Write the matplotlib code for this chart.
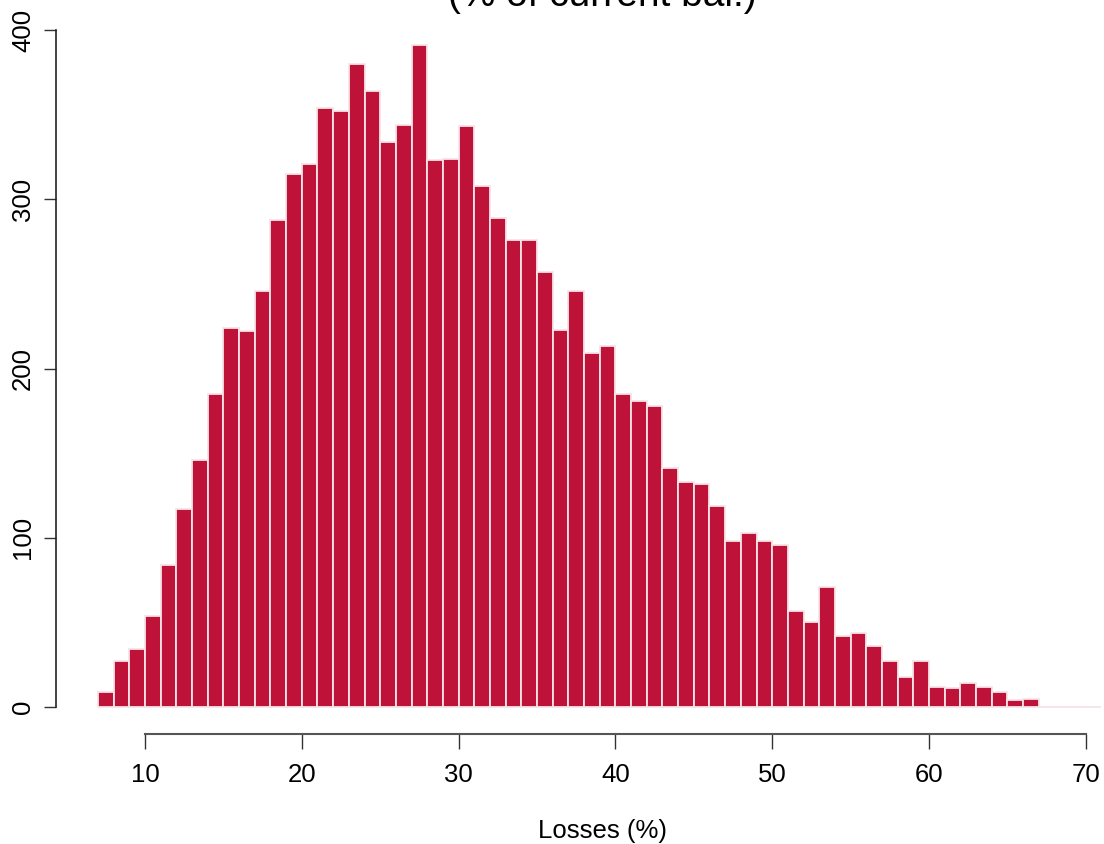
import matplotlib
matplotlib.use('Agg')
import matplotlib.pyplot as plt
import numpy as np

plt.rcParams['font.family'] = ['Liberation Sans', 'DejaVu Sans']

# histogram of losses, bins of width 1 from 7 to 71
bin_edges = list(range(7, 72))
counts = [9, 27, 34, 54, 84, 117, 146, 185, 224, 222,
          246, 288, 315, 321, 354, 352, 380, 364, 334, 344,
          391, 323, 324, 343, 308, 289, 276, 276, 257, 223,
          246, 209, 213, 185, 181, 178, 141, 133, 132, 119,
          98, 103, 98, 96, 57, 50, 71, 42, 44, 36,
          27, 18, 27, 12, 11, 14, 12, 9, 4, 5,
          0, 0, 0, 0]
x_ticks = [10, 20, 30, 40, 50, 60, 70]
y_ticks = [0, 100, 200, 300, 400]
title = '(% of current bal.)'
xlabel = 'Losses (%)'

W, H = 1104, 844
fig = plt.figure(figsize=(W / 100, H / 100), dpi=100)
# axes box in pixels: left 56, right 1104, top 20, bottom 734
ax = fig.add_axes([56 / W, 1 - 734 / H, (1104 - 56) / W, (734 - 20) / H])

ax.hist(bin_edges[:-1], bins=bin_edges, weights=counts,
        color='#BE1238', edgecolor='#f6e4e8', linewidth=1.3)

px_x = 15.68
ax.set_xlim(10 + (56 - 145) / px_x, 10 + (1104 - 145) / px_x)
px_y = 1.6925
ax.set_ylim((707 - 734) / px_y, (707 - 20) / px_y)

for s in ['top', 'right']:
    ax.spines[s].set_visible(False)
ax.spines['left'].set_bounds(0, 400)
ax.spines['bottom'].set_bounds(10, 70)
ax.spines['left'].set_color('#222222')
ax.spines['bottom'].set_color('#555555')
ax.spines['left'].set_linewidth(1.2)
ax.spines['bottom'].set_linewidth(1.5)

ax.set_xticks(x_ticks)
ax.set_yticks(y_ticks)
ax.set_yticklabels([str(v) for v in y_ticks], rotation=90, va='center')
ax.tick_params(axis='x', length=11, width=1, pad=10, labelsize=18.5, color='#333333')
ax.tick_params(axis='y', length=9, width=1, pad=6, labelsize=18.5, color='#333333')

ax.set_xlabel(xlabel, fontsize=18.5, labelpad=23)
ax.xaxis.label.set_x((603 - 56) / (1104 - 56))

fig.text(602 / W, 1 - 6 / H, title, ha='center', va='baseline', fontsize=28)

fig.savefig('out.png', dpi=100)
